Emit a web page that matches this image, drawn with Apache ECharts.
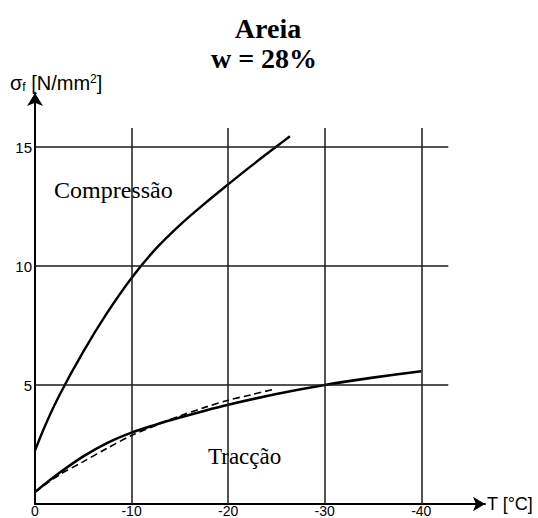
<!DOCTYPE html>
<html>
<head>
<meta charset="utf-8">
<script src="https://cdn.jsdelivr.net/npm/echarts@6/dist/echarts.min.js"></script>
<style>html,body{margin:0;padding:0;background:#fff}#c{width:538px;height:518px}</style>
</head>
<body>
<div id="c"></div>
<script>
// Temperature (°C) sample points
const compT   = [0, -1, -2.5, -5, -7.5, -10, -12.5, -15, -17.5, -20, -22.5, -25, -26.4];
const compS   = [2.25, 3.25, 4.55, 6.4, 8.05, 9.5, 10.72, 11.72, 12.6, 13.43, 14.24, 15.02, 15.45];
const tensT   = [0, -1, -2.5, -5, -7.5, -10, -12.5, -15, -17.5, -20, -25, -30, -35, -40];
const tensS   = [0.5, 0.83, 1.3, 2.0, 2.57, 3.0, 3.33, 3.63, 3.91, 4.17, 4.62, 5.0, 5.31, 5.58];
const dashT   = [0, -2.5, -5, -7.5, -10, -12.5, -15, -17.5, -20, -22.5, -24.7];
const dashS   = [0.5, 1.22, 1.78, 2.35, 2.88, 3.3, 3.7, 4.05, 4.36, 4.6, 4.82];
const xTicks  = [0, -10, -20, -30, -40];
const yTicks  = [5, 10, 15];
const gridX   = [-10, -20, -30, -40];
const gridY   = [5, 10, 15];
const gridTopValue = 15.8;
const gridRightValue = -42.8;

const zip = (a, b) => a.map((v, i) => [v, b[i]]);
const gridLines = [];
gridX.forEach(x => gridLines.push([{coord: [x, 0]}, {coord: [x, gridTopValue]}]));
gridY.forEach(y => gridLines.push([{coord: [0, y]}, {coord: [gridRightValue, y]}]));

const chart = echarts.init(document.getElementById('c'), null, {renderer: 'svg'});
const sans = 'Liberation Sans, Arial, sans-serif';
const serif = 'Liberation Serif, Times New Roman, serif';
chart.setOption({
  animation: false,
  backgroundColor: '#fff',
  grid: {left: 35, right: 53, top: 93, bottom: 14, containLabel: false, outerBoundsMode: 'none'},
  xAxis: {
    type: 'value', inverse: true, min: -46.6, max: 0,
    axisLine: {show: true, onZero: false, lineStyle: {color: '#000', width: 2}, symbol: ['none', 'arrow'], symbolSize: [11, 12]},
    axisTick: {show: false},
    splitLine: {show: false},
    axisLabel: {customValues: xTicks, margin: 0, fontSize: 14, lineHeight: 13, color: '#000', fontFamily: sans},
    name: 'T [°C]', nameLocation: 'start', nameGap: 2,
    nameTextStyle: {fontSize: 18, color: '#000', fontFamily: sans}
  },
  yAxis: {
    type: 'value', min: 0, max: 17.27,
    axisLine: {show: true, onZero: false, lineStyle: {color: '#000', width: 2}, symbol: ['none', 'arrow'], symbolSize: [12, 13]},
    axisTick: {show: false},
    splitLine: {show: false},
    axisLabel: {customValues: yTicks, margin: 3, fontSize: 15, color: '#000', fontFamily: sans}
  },
  graphic: [
    {type: 'text', x: 268, y: 28, style: {text: 'Areia', font: 'bold 28px ' + serif, fill: '#000', textAlign: 'center', textVerticalAlign: 'middle'}},
    {type: 'text', x: 264, y: 58, style: {text: 'w = 28%', font: 'bold 28px ' + serif, fill: '#000', textAlign: 'center', textVerticalAlign: 'middle'}},
    {type: 'text', x: 54, y: 190, style: {text: 'Compressão', font: '24px ' + serif, fill: '#000', textAlign: 'left', textVerticalAlign: 'middle'}},
    {type: 'text', x: 208, y: 456, style: {text: 'Tracção', font: '23px ' + serif, fill: '#000', textAlign: 'left', textVerticalAlign: 'middle'}},
    {type: 'text', x: 10, y: 93, style: {
      text: '{m|σ}{s|f}{m| [N/mm}{p|2}{m|]}',
      textVerticalAlign: 'bottom',
      rich: {
        m: {fontSize: 20, fontFamily: sans, color: '#000'},
        s: {fontSize: 12, fontFamily: sans, color: '#000', verticalAlign: 'bottom'},
        p: {fontSize: 12, fontFamily: sans, color: '#000', verticalAlign: 'top'}
      }
    }}
  ],
  series: [
    {
      type: 'line', name: 'Compressão', data: zip(compT, compS), smooth: 0.3, symbol: 'none',
      lineStyle: {color: '#000', width: 2.4},
      markLine: {silent: true, symbol: 'none', label: {show: false},
        lineStyle: {color: '#1a1a1a', width: 1.5, type: 'solid'}, data: gridLines},
      z: 3
    },
    {
      type: 'line', name: 'Tracção', data: zip(tensT, tensS), smooth: 0.3, symbol: 'none',
      lineStyle: {color: '#000', width: 2.6}, z: 3
    },
    {
      type: 'line', name: 'Tracção (tracejado)', data: zip(dashT, dashS), smooth: 0.3, symbol: 'none',
      lineStyle: {color: '#000', width: 1.6, type: [7, 4]}, z: 3
    }
  ]
});
</script>
</body>
</html>
